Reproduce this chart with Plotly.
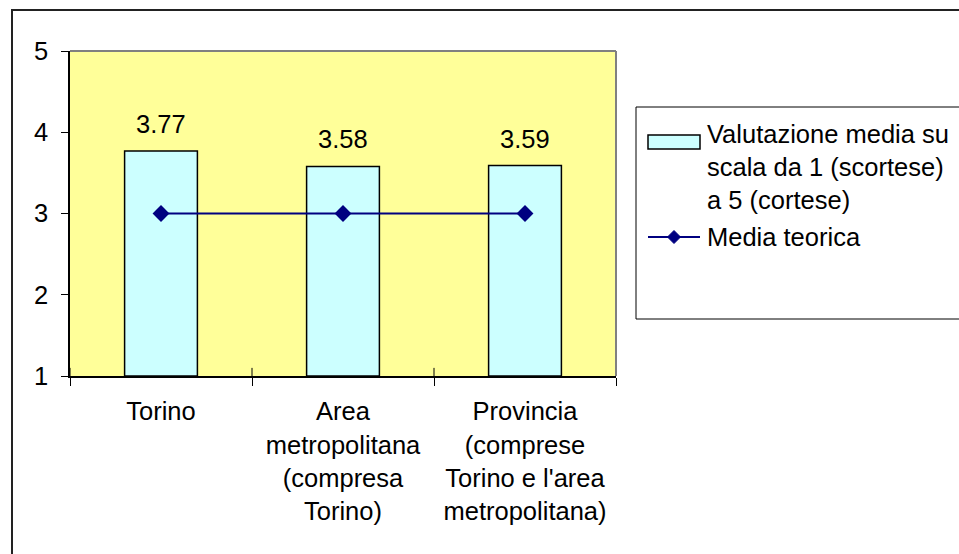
import plotly.graph_objects as go

# Data
categories = [
    "Torino",
    "Area<br>metropolitana<br>(compresa<br>Torino)",
    "Provincia<br>(comprese<br>Torino e l'area<br>metropolitana)",
]
media_valutazione = [3.77, 3.58, 3.59]
media_teorica = [3, 3, 3]
y_ticks = [1, 2, 3, 4, 5]
legend_labels = [
    "Valutazione media su<br>scala da 1 (scortese)<br>a 5 (cortese)",
    "Media teorica",
]

FONT = "Liberation Sans, Arial, sans-serif"
FS = 25.5
BAR_FILL = "#CCFFFF"
LINE_COL = "#000080"

# Plot-area geometry in pixels, used to place the drawn legend
PL, PT, PW, PH = 70, 51, 546, 325


def px(x):
    return (x - PL) / PW


def py(y):
    return (PT + PH - y) / PH


fig = go.Figure()

fig.add_trace(go.Bar(
    x=categories,
    y=[v - 1 for v in media_valutazione],
    base=1,
    name=legend_labels[0],
    marker=dict(color=BAR_FILL, line=dict(color="black", width=1.5)),
    width=0.4,
    hoverinfo="skip",
    showlegend=False,
))

fig.add_trace(go.Scatter(
    x=categories,
    y=media_teorica,
    mode="lines+markers",
    name=legend_labels[1],
    line=dict(color=LINE_COL, width=2),
    marker=dict(symbol="diamond", size=13, color=LINE_COL),
    showlegend=False,
))

# Value labels above bars
for c, v in zip(categories, media_valutazione):
    fig.add_annotation(
        x=c, y=v, text=f"{v:.2f}", showarrow=False,
        yanchor="bottom", yshift=11,
        font=dict(family=FONT, size=FS, color="black"),
    )

# Category boundary ticks crossing the x axis
for xb in [-0.5, 0.5, 1.5, 2.5]:
    fig.add_shape(type="line", xref="x", yref="y",
                  x0=xb, x1=xb, y0=1, y1=1.1,
                  line=dict(color="black", width=1))

# Gray frame on the top and right of the plot area
fig.add_shape(type="line", xref="paper", yref="paper",
              x0=0, x1=1, y0=1, y1=1, line=dict(color="#808080", width=2))
fig.add_shape(type="line", xref="paper", yref="paper",
              x0=1, x1=1, y0=0, y1=1, line=dict(color="#808080", width=2))

# Outer chart border
fig.add_shape(type="rect", xref="paper", yref="paper",
              x0=px(12), x1=1.8, y0=-1.0, y1=py(10),
              line=dict(color="#222222", width=2), layer="below")

# Legend box
fig.add_shape(type="rect", xref="paper", yref="paper",
              x0=px(636), x1=1.8, y0=py(319), y1=py(107),
              line=dict(color="black", width=1))

# Legend key: bar swatch
fig.add_shape(type="rect", xref="paper", yref="paper",
              x0=px(648), x1=px(700), y0=py(149), y1=py(135),
              fillcolor=BAR_FILL, line=dict(color="black", width=1.5))
# Legend key: line with diamond
fig.add_shape(type="line", xref="paper", yref="paper",
              x0=px(648), x1=px(700), y0=py(237), y1=py(237),
              line=dict(color=LINE_COL, width=2))
cx, cy, r = 674, 237, 6.5
fig.add_shape(
    type="path", xref="paper", yref="paper",
    path=(f"M {px(cx - r)} {py(cy)} L {px(cx)} {py(cy - r)} "
          f"L {px(cx + r)} {py(cy)} L {px(cx)} {py(cy + r)} Z"),
    fillcolor=LINE_COL, line=dict(color=LINE_COL, width=1),
)

# Legend texts
fig.add_annotation(xref="paper", yref="paper", x=px(705), y=py(118),
                   xanchor="left", yanchor="top", align="left",
                   text=legend_labels[0], showarrow=False,
                   font=dict(family=FONT, size=FS, color="black"))
fig.add_annotation(xref="paper", yref="paper", x=px(705), y=py(237),
                   xanchor="left", yanchor="middle", align="left",
                   text=legend_labels[1], showarrow=False,
                   font=dict(family=FONT, size=FS, color="black"))

fig.update_layout(
    width=959, height=554,
    margin=dict(l=PL, r=959 - PL - PW, t=PT, b=554 - PT - PH),
    paper_bgcolor="white",
    plot_bgcolor="#FFFF99",
    font=dict(family=FONT, size=FS, color="black"),
    showlegend=False,
    xaxis=dict(
        showline=True, linecolor="black", linewidth=1.5,
        ticks="outside", tickson="boundaries", ticklen=8, tickcolor="black",
        showgrid=False, ticklabelstandoff=12,
        range=[-0.5, 2.5],
    ),
    yaxis=dict(
        range=[1, 5], tickvals=y_ticks,
        showline=True, linecolor="black", linewidth=1.5,
        ticks="outside", ticklen=7, tickcolor="black",
        showgrid=False, zeroline=False, ticklabelstandoff=8,
    ),
    bargap=0.6,
)

fig.write_html("out.html")
